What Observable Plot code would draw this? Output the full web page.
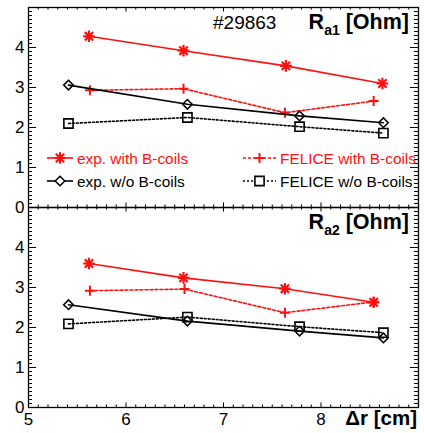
<!DOCTYPE html>
<html><head><meta charset="utf-8">
<script src="https://cdn.jsdelivr.net/npm/d3@7"></script>
<script src="https://cdn.jsdelivr.net/npm/@observablehq/plot@0.6"></script>
<style>
html,body{margin:0;padding:0;background:#fff;}
#chart{width:424px;height:433px;}
</style></head><body><div id="chart"></div>
<script>
// ---------- data ----------
const panels = ["Ra1", "Ra2"];
const seriesNames = ["exp. with B-coils", "FELICE with B-coils", "exp. w/o B-coils", "FELICE w/o B-coils"];

// panel 1: R_a1 [Ohm]
const dr1_expWith    = [5.62, 6.59, 7.64, 8.63];
const ra1_expWith    = [4.28, 3.92, 3.54, 3.10];
const dr1_feliceWith = [5.63, 6.59, 7.63, 8.54];
const ra1_feliceWith = [2.93, 2.97, 2.37, 2.66];
const dr1_expWo      = [5.41, 6.63, 7.78, 8.64];
const ra1_expWo      = [3.06, 2.58, 2.29, 2.12];
const dr1_feliceWo   = [5.41, 6.63, 7.78, 8.64];
const ra1_feliceWo   = [2.10, 2.25, 2.02, 1.86];

// panel 2: R_a2 [Ohm]
const dr2_expWith    = [5.62, 6.59, 7.63, 8.54];
const ra2_expWith    = [3.60, 3.24, 2.97, 2.63];
const dr2_feliceWith = [5.63, 6.60, 7.63, 8.54];
const ra2_feliceWith = [2.92, 2.96, 2.37, 2.64];
const dr2_expWo      = [5.41, 6.63, 7.78, 8.64];
const ra2_expWo      = [2.57, 2.16, 1.91, 1.74];
const dr2_feliceWo   = [5.41, 6.63, 7.78, 8.64];
const ra2_feliceWo   = [2.09, 2.26, 2.02, 1.87];

const xTickLabels = [5, 6, 7, 8];
const yTickLabels = [0, 1, 2, 3, 4];

// ---------- table ----------
function rows(panel, series, xs, ys) {
  return xs.map((x, i) => ({panel, series, dr: x, R: ys[i]}));
}
const data = [
  ...rows("Ra1", seriesNames[0], dr1_expWith, ra1_expWith),
  ...rows("Ra1", seriesNames[1], dr1_feliceWith, ra1_feliceWith),
  ...rows("Ra1", seriesNames[2], dr1_expWo, ra1_expWo),
  ...rows("Ra1", seriesNames[3], dr1_feliceWo, ra1_feliceWo),
  ...rows("Ra2", seriesNames[0], dr2_expWith, ra2_expWith),
  ...rows("Ra2", seriesNames[1], dr2_feliceWith, ra2_feliceWith),
  ...rows("Ra2", seriesNames[2], dr2_expWo, ra2_expWo),
  ...rows("Ra2", seriesNames[3], dr2_feliceWo, ra2_feliceWo)
];

// ---------- symbols (ROOT-like) ----------
const rad = size => Math.sqrt(size / Math.PI);
const symAsterisk = {draw(c, s) { const r = rad(s), d = r * 0.72;
  c.moveTo(-r, 0); c.lineTo(r, 0); c.moveTo(0, -r); c.lineTo(0, r);
  c.moveTo(-d, -d); c.lineTo(d, d); c.moveTo(-d, d); c.lineTo(d, -d); }};
const symPlus = {draw(c, s) { const r = rad(s);
  c.moveTo(-r, 0); c.lineTo(r, 0); c.moveTo(0, -r); c.lineTo(0, r); }};
const symDiamond = {draw(c, s) { const r = rad(s);
  c.moveTo(0, -r); c.lineTo(r, 0); c.lineTo(0, r); c.lineTo(-r, 0); c.closePath(); }};
const symSquare = {draw(c, s) { const r = rad(s);
  c.moveTo(-r, -r); c.lineTo(r, -r); c.lineTo(r, r); c.lineTo(-r, r); c.closePath(); }};

const RED = "#ff1010";
const styles = {
  [seriesNames[0]]: {stroke: RED, dash: null, sym: symAsterisk, r: 5.8, sw: 2.2},
  [seriesNames[1]]: {stroke: RED, dash: "3,2", sym: symPlus, r: 5, sw: 2},
  [seriesNames[2]]: {stroke: "#000", dash: null, sym: symDiamond, r: 4.8, sw: 1.5},
  [seriesNames[3]]: {stroke: "#000", dash: "2,2", sym: symSquare, r: 4.6, sw: 1.6}
};

// ---------- layout ----------
const W = 424, H = 433, mL = 28, mR = 6, mT = 7, mB = 26;
const panelH = (H - mT - mB) / 2, innerW = W - mL - mR;

const yMajor = d3.range(0, 6, 1);
const yMinor = d3.range(1, 50).map(i => i / 10).filter(v => Math.abs(v - Math.round(v)) > 1e-6);
const xMajor = d3.range(5, 10, 1);
const xMinor = d3.range(51, 90).map(i => i / 10).filter(v => Math.abs(v - Math.round(v)) > 1e-6);

const marks = [];
// ticks inside the frame (ROOT style)
marks.push(Plot.ruleY(yMajor, {insetRight: innerW - 8, stroke: "#000", strokeWidth: 1}));
marks.push(Plot.ruleY(yMajor, {insetLeft: innerW - 8, stroke: "#000", strokeWidth: 1}));
marks.push(Plot.ruleY(yMinor, {insetRight: innerW - 4, stroke: "#000", strokeWidth: 1}));
marks.push(Plot.ruleY(yMinor, {insetLeft: innerW - 4, stroke: "#000", strokeWidth: 1}));
marks.push(Plot.ruleX(xMajor, {insetTop: panelH - 4.5, stroke: "#000", strokeWidth: 1}));
marks.push(Plot.ruleX(xMajor, {insetBottom: panelH - 4.5, stroke: "#000", strokeWidth: 1}));
marks.push(Plot.ruleX(xMinor, {insetTop: panelH - 2.5, stroke: "#000", strokeWidth: 1}));
marks.push(Plot.ruleX(xMinor, {insetBottom: panelH - 2.5, stroke: "#000", strokeWidth: 1}));
marks.push(Plot.frame({stroke: "#000", strokeWidth: 1.3}));

for (const s of seriesNames) {
  const st = styles[s];
  const d = data.filter(r => r.series === s);
  marks.push(Plot.line(d, {x: "dr", y: "R", fy: "panel", stroke: st.stroke, strokeWidth: 1.6,
    strokeDasharray: st.dash || undefined}));
  marks.push(Plot.dot(d, {x: "dr", y: "R", fy: "panel", symbol: st.sym, r: st.r,
    stroke: st.stroke, fill: "none", strokeWidth: st.sw}));
}

marks.push(Plot.axisY({ticks: yTickLabels, tickSize: 0, tickPadding: 4, fontSize: 17, label: null,
  tickFormat: d => String(d)}));
marks.push(Plot.axisX({anchor: "bottom", ticks: xTickLabels, tickSize: 0, tickPadding: 5, fontSize: 17, label: null,
  tickFormat: d => String(d)}));

const chart = Plot.plot({
  width: W, height: H,
  marginLeft: mL, marginRight: mR, marginTop: mT, marginBottom: mB,
  x: {domain: [5, 9], label: null},
  y: {domain: [0, 5], label: null},
  fy: {domain: panels, padding: 0, axis: null, label: null},
  style: {fontFamily: "'Liberation Sans', Arial, Helvetica, sans-serif", background: "#fff", color: "#000"},
  marks
});
document.getElementById("chart").appendChild(chart);

// ---------- annotations ----------
const svg = d3.select(chart);
const FF = "'Liberation Sans', Arial, Helvetica, sans-serif";
const g = svg.append("g").attr("font-family", FF).attr("text-anchor", "start");

g.append("text").attr("x", 213).attr("y", mT + 22).attr("font-size", 19)
  .attr("text-anchor", "start").text("#29863");

function panelTitle(top, sub) {
  const t = g.append("text").attr("x", 409).attr("y", top + 22).attr("text-anchor", "end")
    .attr("font-weight", "bold").attr("font-size", 21.5);
  t.append("tspan").text("R");
  t.append("tspan").attr("font-size", 14).attr("dy", 6).text(sub);
  t.append("tspan").attr("dy", -6).text(" [Ohm]");
}
panelTitle(mT, "a1");
panelTitle(mT + panelH, "a2");

g.append("text").attr("x", 417).attr("y", H - 8).attr("text-anchor", "end")
  .attr("font-weight", "bold").attr("font-size", 20.5).text("\u0394r [cm]");

// legend
const legendItems = [
  {name: seriesNames[0], x0: 47, x1: 73, tx: 77, y: mT + 151},
  {name: seriesNames[2], x0: 47, x1: 73, tx: 77, y: mT + 174},
  {name: seriesNames[1], x0: 243, x1: 276, tx: 280, y: mT + 151},
  {name: seriesNames[3], x0: 243, x1: 276, tx: 280, y: mT + 174}
];
for (const it of legendItems) {
  const st = styles[it.name];
  g.append("line").attr("x1", it.x0).attr("x2", it.x1).attr("y1", it.y).attr("y2", it.y)
    .attr("stroke", st.stroke).attr("stroke-width", 1.6)
    .attr("stroke-dasharray", st.dash || null);
  g.append("path").attr("transform", `translate(${(it.x0 + it.x1) / 2},${it.y})`)
    .attr("d", d3.symbol(st.sym, st.r * st.r * Math.PI)())
    .attr("fill", st.stroke === RED ? "none" : "#fff").attr("stroke", st.stroke).attr("stroke-width", st.sw);
  g.append("text").attr("x", it.tx).attr("y", it.y + 5.5).attr("font-size", 15.4)
    .attr("text-anchor", "start").attr("fill", st.stroke).text(it.name);
}
</script></body></html>
